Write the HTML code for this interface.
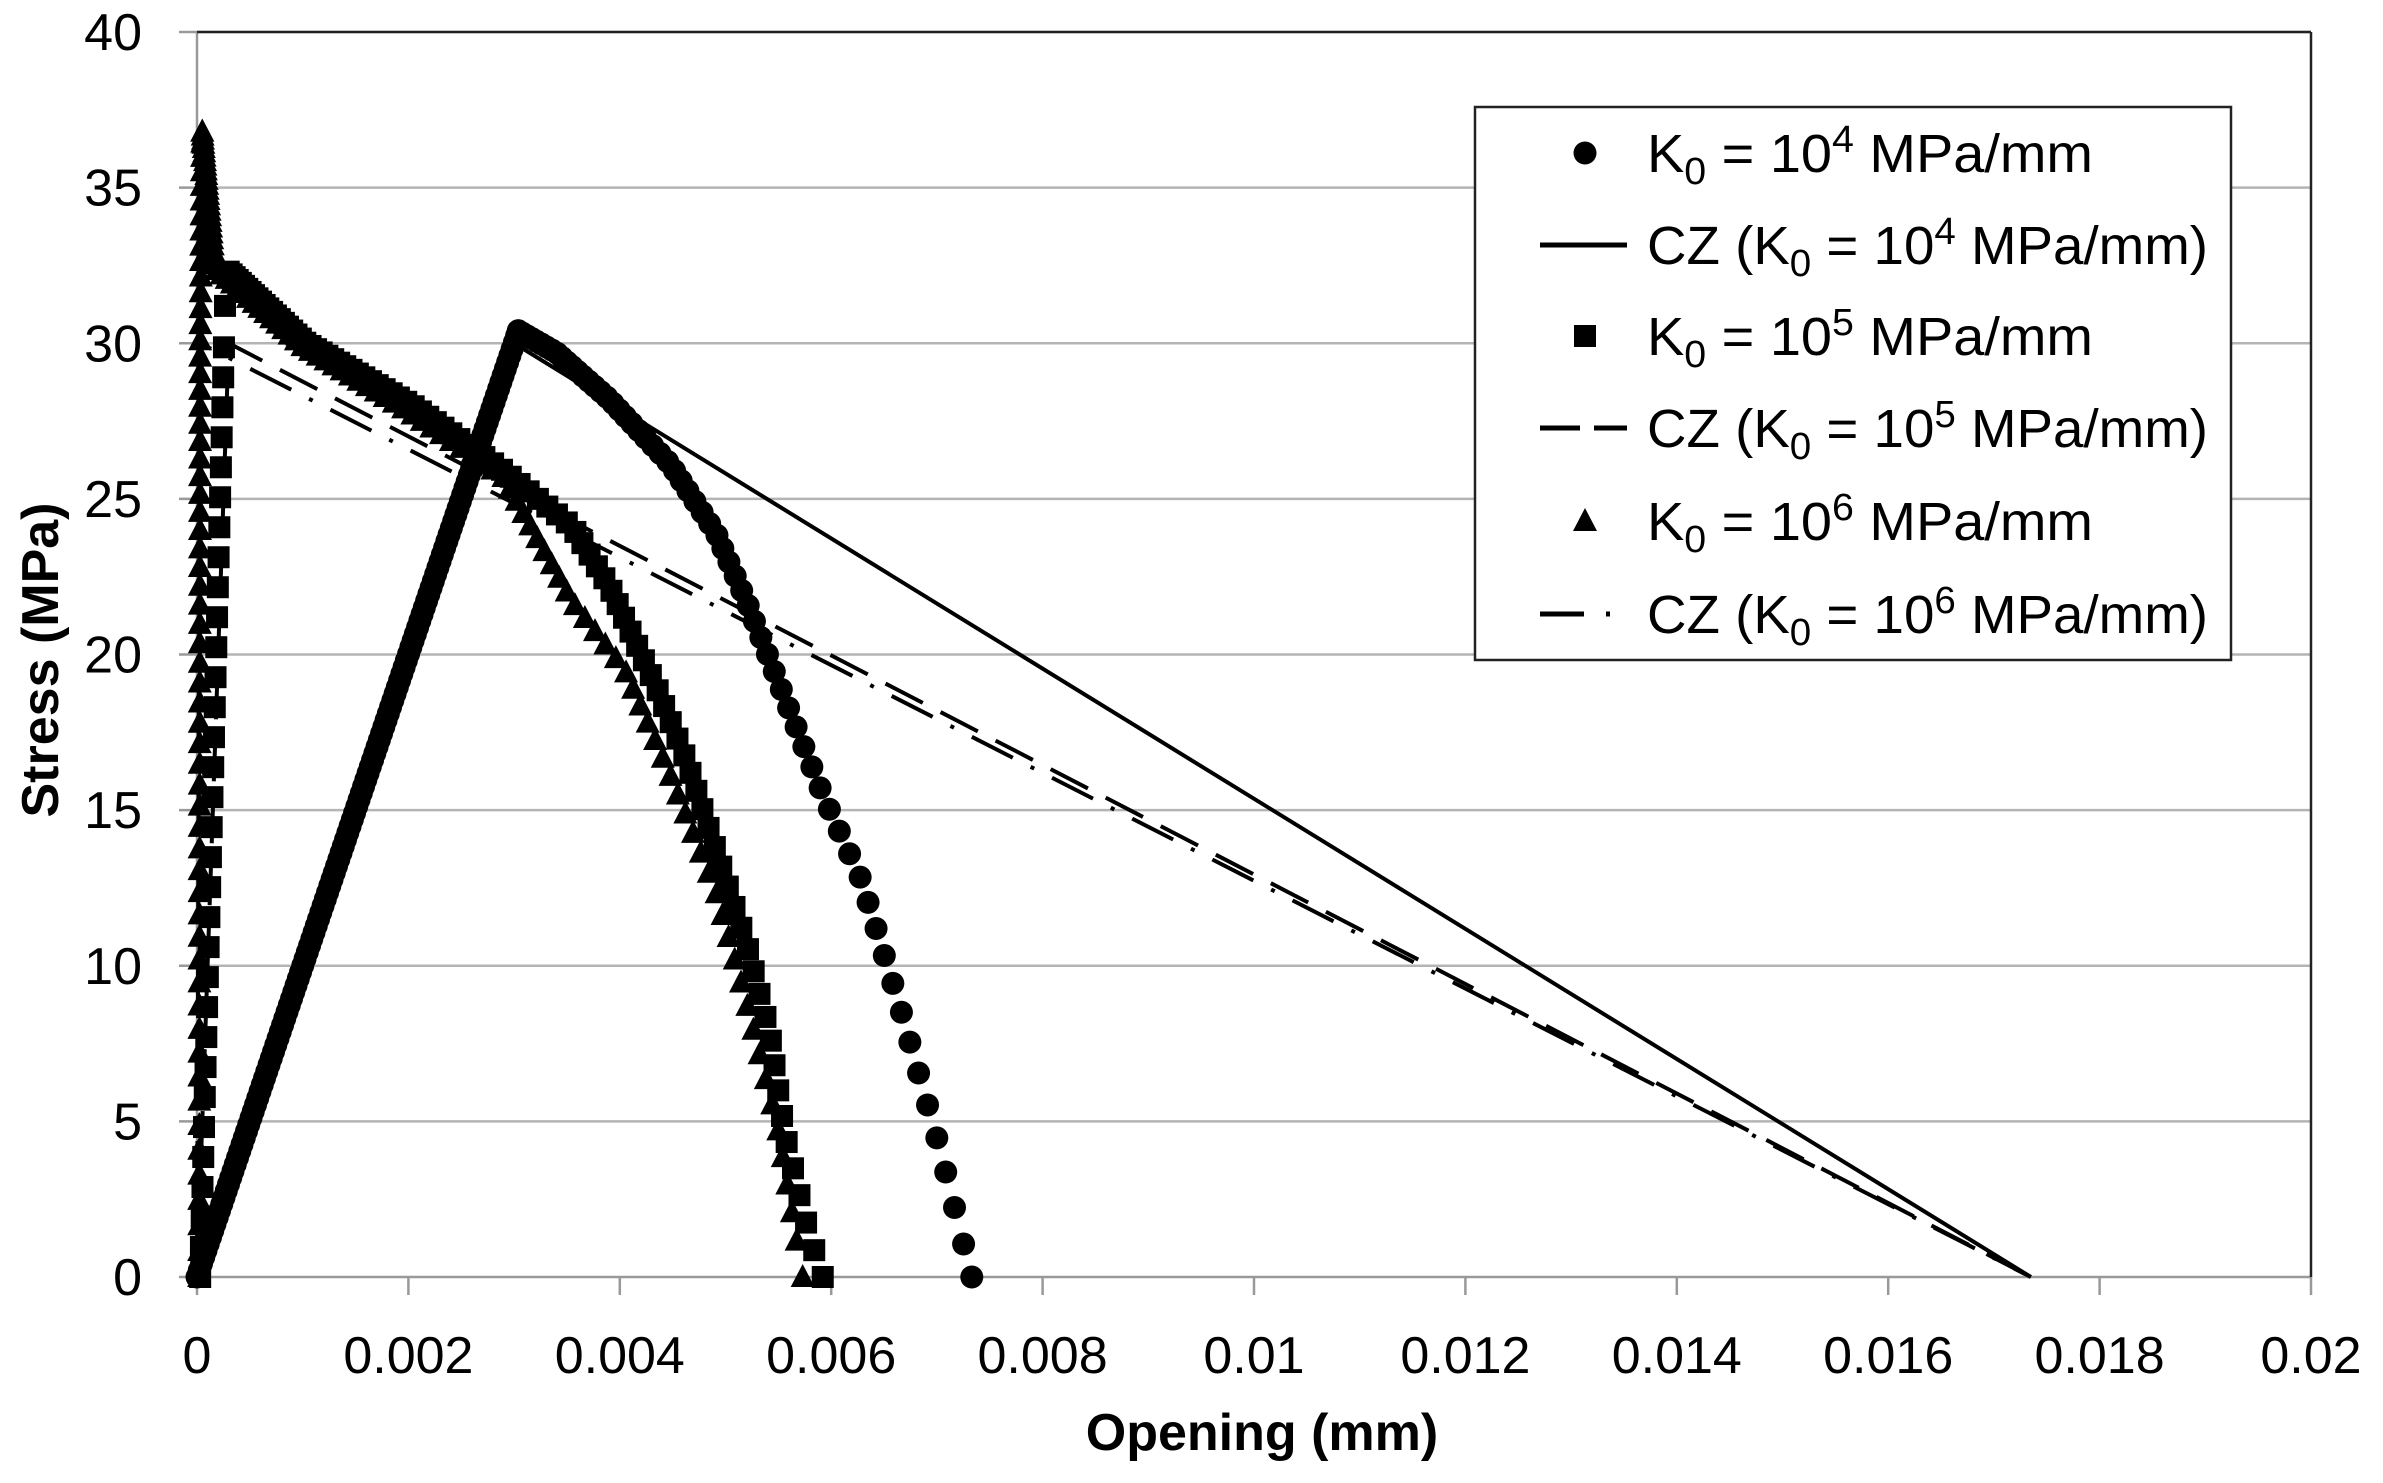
<!DOCTYPE html>
<html><head><meta charset="utf-8"><style>
html,body{margin:0;padding:0;background:#fff;}
svg{display:block;font-family:"Liberation Sans",sans-serif;}
</style></head><body>
<svg id="s" width="2383" height="1483" viewBox="0 0 2383 1483" xmlns="http://www.w3.org/2000/svg">
<rect width="2383" height="1483" fill="#fff"/>
<g id="grid" stroke="#b4b4b4" stroke-width="2.5"></g>
<g id="ax"></g>
<g id="lines" fill="none" stroke="#000" stroke-width="4"></g>
<g id="mk" fill="#000"></g>
<g id="lab" font-size="52" fill="#000"></g>
<text x="1262" y="1450" font-size="52" font-weight="bold" text-anchor="middle">Opening (mm)</text>
<text transform="translate(58,660) rotate(-90)" font-size="52" font-weight="bold" text-anchor="middle">Stress (MPa)</text>
<g id="leg"></g>
</svg>
<script>
const NS="http://www.w3.org/2000/svg";
const X0=197,X1=2311,Y0=1277,Y40=32;
const px=x=>X0+x*(X1-X0)/0.02, py=s=>Y0-s*(Y0-Y40)/40;
function el(p,t,a,txt){const e=document.createElementNS(NS,t);for(const k in a)e.setAttribute(k,a[k]);if(txt!==undefined)e.textContent=txt;document.getElementById(p).appendChild(e);return e;}
for(let i=1;i<=8;i++){const y=py(i*5);el('grid','line',{x1:X0,x2:X1,y1:y,y2:y});}
el('ax','line',{x1:X0,x2:X0,y1:Y40,y2:Y0,stroke:'#999','stroke-width':2.5});
el('ax','line',{x1:X0,x2:X1,y1:Y0,y2:Y0,stroke:'#999','stroke-width':2.5});
el('ax','line',{x1:X0,x2:X1,y1:Y40,y2:Y40,stroke:'#222','stroke-width':2.5});
el('ax','line',{x1:X1,x2:X1,y1:Y40,y2:Y0,stroke:'#222','stroke-width':2.5});
for(let i=0;i<=8;i++){const y=py(i*5);el('ax','line',{x1:X0-18,x2:X0,y1:y,y2:y,stroke:'#999','stroke-width':2.5});
 el('lab','text',{x:142,y:y+18,'text-anchor':'end'},String(i*5));}
for(let i=0;i<=10;i++){const x=px(i*0.002);el('ax','line',{x1:x,x2:x,y1:Y0,y2:Y0+18,stroke:'#999','stroke-width':2.5});
 const t=i==0?'0':(i==10?'0.02':(i*0.002).toFixed(3).replace(/0+$/,''));
 el('lab','text',{x:x,y:1373,'text-anchor':'middle'},t);}
function pl(pts,dash){el('lines','polyline',{points:pts.map(p=>px(p[0])+','+py(p[1])).join(' '),'stroke-dasharray':dash||'none'});}
pl([[0,0],[0.003,30],[0.01735,0]]);
pl([[0,0],[0.0003,30],[0.01735,0]],'42 20');
pl([[0,0],[0.00003,30],[0.01735,0]],'46 20 4 20');
function sample(pts,sp0,sp1){
 const P=pts.map(p=>[px(p[0]),py(p[1])]);let L=[0];
 for(let i=1;i<P.length;i++)L.push(L[i-1]+Math.hypot(P[i][0]-P[i-1][0],P[i][1]-P[i-1][1]));
 const T=L[L.length-1];const out=[];let d=0;
 while(d<T-sp1*0.5){let i=1;while(i<P.length-1&&L[i]<d)i++;const f=(d-L[i-1])/((L[i]-L[i-1])||1);
  out.push([P[i-1][0]+(P[i][0]-P[i-1][0])*f,P[i-1][1]+(P[i][1]-P[i-1][1])*f]);
  d+=sp0+(sp1-sp0)*(d/T);}
 out.push(P[P.length-1]);
 return out;}
function circ(g,ps){ps.forEach(p=>el(g,'circle',{cx:p[0],cy:p[1],r:11.5}));}
function sq(g,ps){ps.forEach(p=>el(g,'rect',{x:p[0]-11,y:p[1]-11,width:22,height:22}));}
function tri(g,ps){ps.forEach(p=>el(g,'polygon',{points:`${p[0]},${p[1]-13} ${p[0]-12},${p[1]+10} ${p[0]+12},${p[1]+10}`}));}
circ('mk',sample([[0,0],[0.00304,30.4]],7,7));
circ('mk',sample([[0.00304,30.4],[0.0034,29.7],[0.0039,28.2],[0.00448,26.1],[0.00491,23.9],[0.0052,21.7],[0.00534,20.5],[0.00592,15.5],[0.00628,12.8],[0.00664,8.8],[0.00703,4.1],[0.00733,0]],5,40));
sq('mk',sample([[0.00003,0],[0.000265,31.2]],30,30));
sq('mk',sample([[0.0003,32.3],[0.00103,30],[0.00204,28],[0.0029,25.9],[0.00355,24.1],[0.0039,22.2],[0.00434,19],[0.00463,16.6],[0.00491,13.7],[0.0052,10.7],[0.00542,7.8],[0.00556,4.6],[0.00578,1.5],[0.00592,0]],4,30));
tri('mk',sample([[0.00002,0],[0.00003,30],[0.00005,36.8]],26,14));
tri('mk',sample([[0.00005,36.8],[0.00017,32.4],[0.001,29.9],[0.002,27.8],[0.0029,25.7],[0.00355,21.7],[0.00405,19.5],[0.00448,16.1],[0.00491,12.4],[0.0052,8.8],[0.00549,4.9],[0.00573,0]],4,30));
// legend
el('leg','rect',{x:1475,y:107,width:756,height:553,fill:'#fff',stroke:'#222','stroke-width':2.5});
const rows=[153,245,336,428,521,614];
const lbl=[['K','0',' = 10','4',' MPa/mm',0],['CZ (K','0',' = 10','4',' MPa/mm)',1],['K','0',' = 10','5',' MPa/mm',0],['CZ (K','0',' = 10','5',' MPa/mm)',1],['K','0',' = 10','6',' MPa/mm',0],['CZ (K','0',' = 10','6',' MPa/mm)',1]];
rows.forEach((y,i)=>{
 const L=lbl[i];const t=el('leg','text',{x:1647,y:y+19,'font-size':54,textLength:L[5]?561:446,lengthAdjust:'spacingAndGlyphs'});
 const a=(s,dy,fs)=>{const e=document.createElementNS(NS,'tspan');if(dy)e.setAttribute('dy',dy);if(fs)e.setAttribute('font-size',fs);e.textContent=s;t.appendChild(e);};
 a(L[0]);a(L[1],12,38);a(L[2],-12);a(L[3],-20,38);a(L[4],20);
});
circ('leg',[[1585,153]]);
el('leg','line',{x1:1540,x2:1627,y1:245,y2:245,stroke:'#000','stroke-width':5});
sq('leg',[[1585,336]]);
el('leg','line',{x1:1540,x2:1627,y1:428,y2:428,stroke:'#000','stroke-width':5,'stroke-dasharray':'40 14'});
tri('leg',[[1585,521]]);
el('leg','line',{x1:1540,x2:1627,y1:614,y2:614,stroke:'#000','stroke-width':5,'stroke-dasharray':'44 22 4 40'});
</script>
</body></html>
